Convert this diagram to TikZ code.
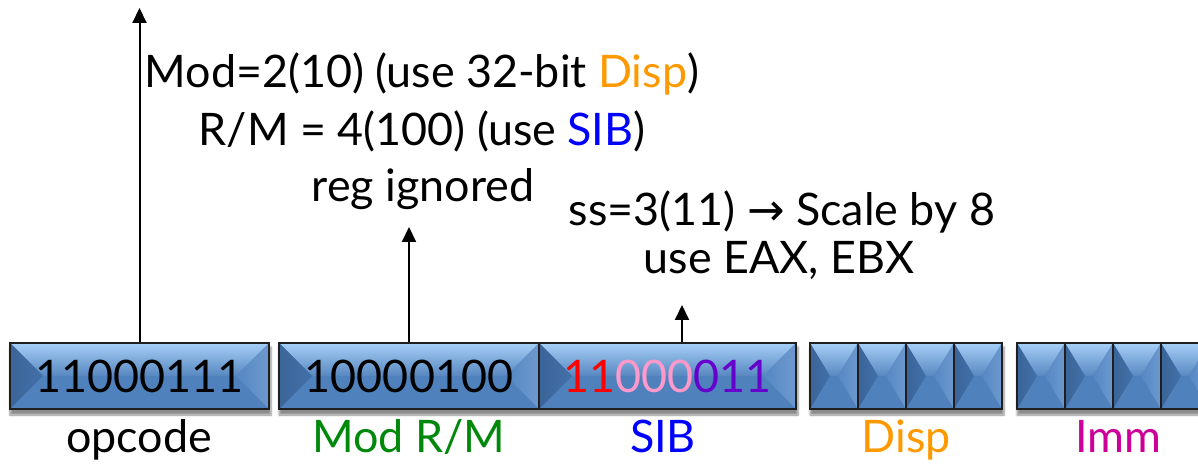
\documentclass[tikz,border=0pt]{standalone}
\usepackage{fontspec}
\setmainfont{Lato}
\newfontfamily\arrowfont{DejaVu Sans}
\usetikzlibrary{arrows.meta,calc,shadows.blur,backgrounds}
\definecolor{boxmid}{HTML}{4F81BD}
\definecolor{boxtop}{HTML}{A6CFF7}
\definecolor{boxleft}{HTML}{4270A9}
\definecolor{boxright}{HTML}{5587C4}
\definecolor{cgreen}{HTML}{00880A}
\definecolor{cblue}{HTML}{0000FF}
\definecolor{corange}{HTML}{FF9900}
\definecolor{cmag}{HTML}{CC0099}
\definecolor{cred}{HTML}{FF0000}
\definecolor{cpink}{HTML}{FF99CC}
\definecolor{cpurple}{HTML}{6600CC}
\newcommand\bevelfaces[1]{%
  \path (path picture bounding box.north west) coordinate (bNW)
        (path picture bounding box.north east) coordinate (bNE)
        (path picture bounding box.south west) coordinate (bSW)
        (path picture bounding box.south east) coordinate (bSE)
        (path picture bounding box.west) coordinate (bW)
        (path picture bounding box.east) coordinate (bE);
  \fill[boxmid] (bNW) rectangle (bSE);
  \shade[top color=boxtop,bottom color=boxmid!95!white] (bNW) -- (bNE) -- ($(bE)+(-#1,0)$) -- ($(bW)+(#1,0)$) -- cycle;
  \shade[left color=boxleft!90!black,right color=boxleft] (bNW) -- ($(bW)+(#1,0)$) -- (bSW) -- cycle;
  \shade[left color=boxright,right color=boxright!85!white] (bNE) -- ($(bE)+(-#1,0)$) -- (bSE) -- cycle;
}
\tikzset{
  txt/.style={font=\fontsize{45}{54}\selectfont, inner sep=0pt},
  cell/.style={draw=black!88, line width=2bp, minimum height=66bp, inner sep=0pt,
    font=\fontsize{45}{54}\selectfont, path picture={\bevelfaces{#1}}},
  conn/.style={line width=2bp, -{Triangle[width=14bp,length=15bp]}},
  shad/.style={blur shadow={shadow xshift=1bp, shadow yshift=-5bp, shadow opacity=45, shadow blur steps=6}}
}
\begin{document}
\begin{tikzpicture}[x=1bp,y=-1bp]
\useasboundingbox (0,0) rectangle (1198,464);
\clip (0,0) rectangle (1198,464);
% boxes
\node[cell=33, minimum width=259bp] (op) at (139.5,376) {11000111};
\node[cell=33, minimum width=260bp] (modrm) at (409,376) {10000100};
\node[cell=33, minimum width=257bp] (sib) at (667.5,376) {\textcolor{cred}{11}\textcolor{cpink}{000}\textcolor{cpurple}{011}};
\node[cell=20, minimum width=48bp] (d1) at (834,376) {};
\node[cell=20, minimum width=48bp] (d2) at (882,376) {};
\node[cell=20, minimum width=48bp] (d3) at (930,376) {};
\node[cell=20, minimum width=48bp] (d4) at (978,376) {};
\node[cell=20, minimum width=48bp] (i1) at (1041,376) {};
\node[cell=20, minimum width=48bp] (i2) at (1089,376) {};
\node[cell=20, minimum width=48bp] (i3) at (1137,376) {};
\node[cell=20, minimum width=48bp] (i4) at (1185,376) {};
\begin{scope}[on background layer]
  \path[shad] (op.north west) rectangle (op.south east);
  \path[shad] (modrm.north west) rectangle (sib.south east);
  \path[shad] (d1.north west) rectangle (d4.south east);
  \path[shad] (i1.north west) rectangle (i4.south east);
\end{scope}
% field labels
\node[txt, anchor=base] (lop) at (139,453) {opcode};
\node[txt, anchor=base, text=cgreen] (lmod) at (409,453) {Mod R/M};
\node[txt, anchor=base, text=cblue] (lsib) at (663,453) {SIB};
\node[txt, anchor=base, text=corange] (ldisp) at (906,453) {Disp};
\node[txt, anchor=base, text=cmag] (limm) at (1118,453) {Imm};
% explanations
\node[txt, anchor=base] (m1) at (422,88) {Mod=2(10) (use 32-bit \textcolor{corange}{Disp})};
\node[txt, anchor=base] (m2) at (422,146) {R/M = 4(100) (use \textcolor{cblue}{SIB})};
\node[txt, anchor=base] (m3) at (423,202) {reg ignored};
\node[txt, anchor=base] (s1) at (782,226) {ss=3(11) {\arrowfont →} Scale by 8};
\node[txt, anchor=base] (s2) at (779,274) {use EAX, EBX};
% connectors
\coordinate (optip) at (139.5,8);
\coordinate (mtip) at (409,227);
\coordinate (stip) at (682,305);
\draw[conn] (op.north) -- (optip);
\draw[conn] (modrm.north) -- (mtip);
\draw[conn] (sib.north -| stip) -- (stip);
\end{tikzpicture}
\end{document}
